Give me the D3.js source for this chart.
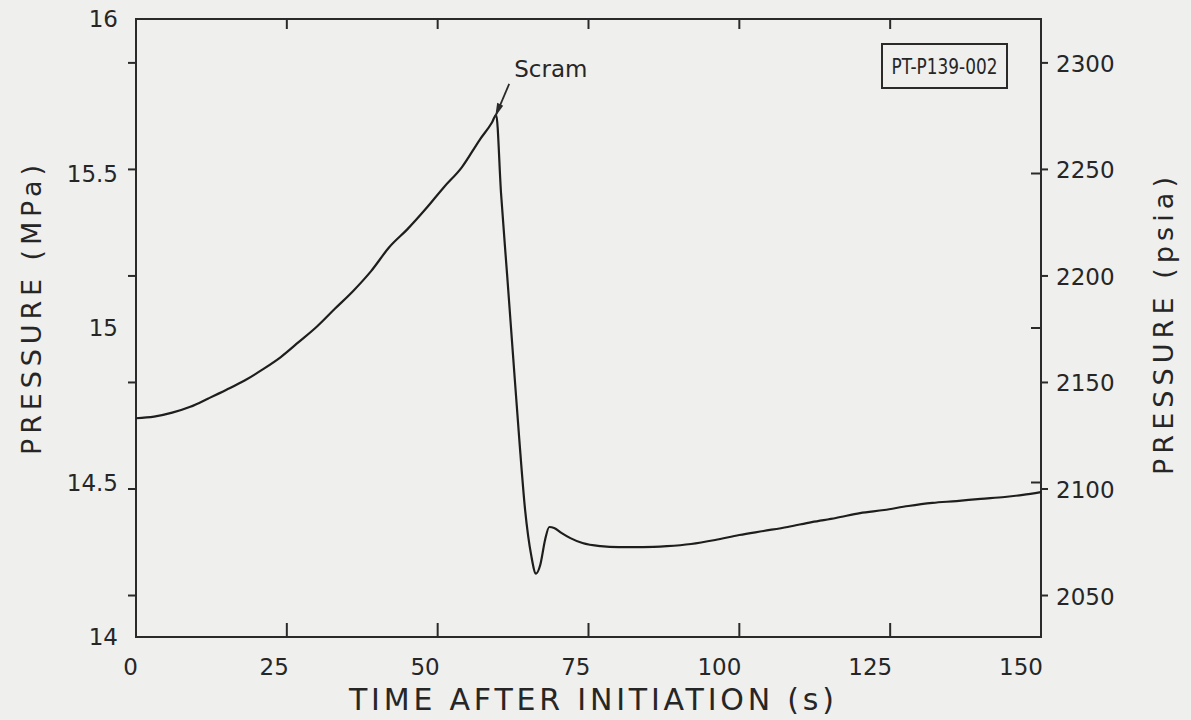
<!DOCTYPE html>
<html>
<head>
<meta charset="utf-8">
<script src="https://cdn.jsdelivr.net/npm/d3@7"></script>
<style>
  html, body { margin: 0; padding: 0; background: #efefed; }
  svg { display: block; }
  text { font-family: "DejaVu Sans", "Liberation Sans", sans-serif; fill: #262626; }
</style>
</head>
<body>
<svg id="chart" width="1191" height="720"></svg>
<script>
// ---- data ----
const timeS = [0, 3, 6, 9, 12, 15, 18, 21, 24, 27, 30, 33, 36, 39, 42, 45, 48, 51, 54, 57, 59, 59.7,
  60.5, 61.5, 62.5, 63.5, 64.5, 65.5, 66.3, 67, 67.8, 68.5, 69.3, 70.5, 72, 74, 77, 80, 84, 88, 92, 96,
  100, 104, 108, 112, 116, 120, 124, 128, 132, 136, 140, 144, 147, 150];
const pressureMPa = [14.708, 14.713, 14.726, 14.745, 14.772, 14.800, 14.830, 14.866, 14.906, 14.955,
  15.005, 15.063, 15.120, 15.185, 15.262, 15.320, 15.385, 15.455, 15.520, 15.610, 15.665, 15.690,
  15.437, 15.175, 14.909, 14.647, 14.410, 14.265, 14.205, 14.233, 14.314, 14.356, 14.353, 14.337,
  14.320, 14.304, 14.294, 14.291, 14.291, 14.294, 14.301, 14.314, 14.330, 14.343, 14.356, 14.372,
  14.385, 14.401, 14.411, 14.424, 14.434, 14.440, 14.447, 14.453, 14.460, 14.469];
const xTicks = [0, 25, 50, 75, 100, 125, 150];
const mpaLabels = [14, 14.5, 15, 15.5, 16];
const psiTicks = [2050, 2100, 2150, 2200, 2250, 2300];
const scramTime = 59.7, scramValue = 15.69;
const PSI_TO_MPA = 0.00689476;

// ---- layout ----
const svg = d3.select("#chart");
const L = 136, R = 1041, T = 19, B = 637;
const x = d3.scaleLinear().domain([0, 150]).range([L, R]);
const y = d3.scaleLinear().domain([14, 16]).range([B, T]);
const ink = "#2a2a2a";

// frame
svg.append("rect").attr("x", L).attr("y", T).attr("width", R - L).attr("height", B - T)
  .attr("fill", "none").attr("stroke", ink).attr("stroke-width", 2);

// bottom axis: inward ticks, right-aligned labels
const gB = svg.append("g");
gB.selectAll("line").data(xTicks.slice(1, -1)).join("line")
  .attr("x1", d => x(d)).attr("x2", d => x(d)).attr("y1", B).attr("y2", B - 14)
  .attr("stroke", ink).attr("stroke-width", 2);
gB.selectAll("text").data(xTicks).join("text")
  .attr("x", d => x(d) + 2).attr("y", B + 38).attr("text-anchor", "end")
  .attr("font-size", 23).text(d => d);

// top axis: inward ticks
svg.append("g").selectAll("line").data(xTicks.slice(1, -1)).join("line")
  .attr("x1", d => x(d)).attr("x2", d => x(d)).attr("y1", T).attr("y2", T + 10)
  .attr("stroke", ink).attr("stroke-width", 2);

// left axis: psi ticks outward, MPa labels
svg.append("g").selectAll("line").data(psiTicks).join("line")
  .attr("x1", L - 8).attr("x2", L).attr("y1", d => y(d * PSI_TO_MPA)).attr("y2", d => y(d * PSI_TO_MPA))
  .attr("stroke", ink).attr("stroke-width", 2);
svg.append("g").selectAll("text").data(mpaLabels).join("text")
  .attr("x", 118).attr("y", d => y(d) + 8).attr("text-anchor", "end")
  .attr("font-size", 23).text(d => d);

// right axis: psi ticks outward with labels, MPa ticks inward
svg.append("g").selectAll("line").data(psiTicks).join("line")
  .attr("x1", R).attr("x2", R + 7).attr("y1", d => y(d * PSI_TO_MPA)).attr("y2", d => y(d * PSI_TO_MPA))
  .attr("stroke", ink).attr("stroke-width", 2);
svg.append("g").selectAll("text").data(psiTicks).join("text")
  .attr("x", R + 15).attr("y", d => y(d * PSI_TO_MPA) + 9)
  .attr("font-size", 23).text(d => d);
svg.append("g").selectAll("line").data(mpaLabels.slice(1, -1)).join("line")
  .attr("x1", R - 10).attr("x2", R).attr("y1", d => y(d)).attr("y2", d => y(d))
  .attr("stroke", ink).attr("stroke-width", 2);

// axis titles
svg.append("text").attr("x", (L + R) / 2 + 3).attr("y", 710).attr("text-anchor", "middle")
  .attr("font-size", 30).attr("textLength", 485).attr("lengthAdjust", "spacing")
  .text("TIME AFTER INITIATION (s)");
svg.append("text").attr("transform", "translate(41,310) rotate(-90)").attr("text-anchor", "middle")
  .attr("font-size", 27).attr("textLength", 290).attr("lengthAdjust", "spacing")
  .text("PRESSURE (MPa)");
svg.append("text").attr("transform", "translate(1173,326) rotate(-90)").attr("text-anchor", "middle")
  .attr("font-size", 27).attr("textLength", 298).attr("lengthAdjust", "spacing")
  .text("PRESSURE (psia)");

// data line
const pts = timeS.map((t, i) => [t, pressureMPa[i]]);
svg.append("path").datum(pts)
  .attr("fill", "none").attr("stroke", "#1e1e1e").attr("stroke-width", 2.2)
  .attr("stroke-linejoin", "round")
  .attr("d", d3.line().x(d => x(d[0])).y(d => y(d[1])).curve(d3.curveMonotoneX));

// Scram annotation
const sx = x(scramTime), sy = y(scramValue);
svg.append("line").attr("x1", sx + 13).attr("y1", sy - 31).attr("x2", sx - 1).attr("y2", sy + 2)
  .attr("stroke", ink).attr("stroke-width", 1.8);
svg.append("path")
  .attr("d", `M${sx - 1},${sy + 2} L${sx + 1},${sy - 12} L${sx + 7},${sy - 9} Z`)
  .attr("fill", ink);
svg.append("text").attr("x", sx + 18).attr("y", sy - 38).attr("font-size", 23)
  .text("Scram");

// ID box
svg.append("rect").attr("x", 882).attr("y", 44).attr("width", 125).attr("height", 44)
  .attr("fill", "none").attr("stroke", ink).attr("stroke-width", 2);
svg.append("text").attr("x", 944.5).attr("y", 74).attr("text-anchor", "middle")
  .attr("font-size", 21).attr("textLength", 106).attr("lengthAdjust", "spacingAndGlyphs")
  .text("PT-P139-002");
</script>
</body>
</html>
